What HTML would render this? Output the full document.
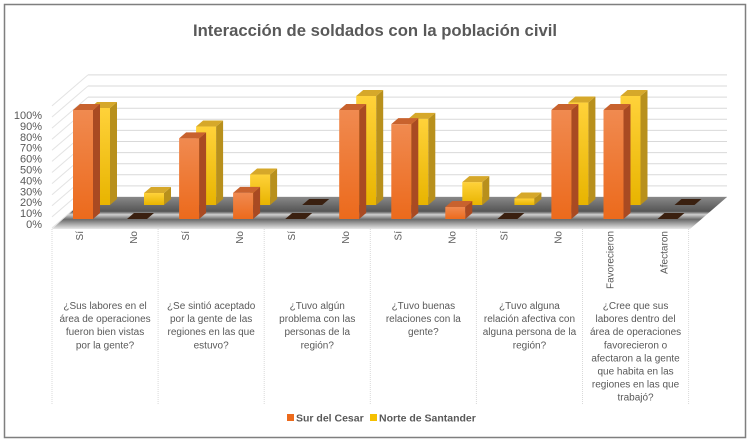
<!DOCTYPE html>
<html><head><meta charset="utf-8"><style>
body{margin:0;background:#fff}
svg{display:block;font-family:"Liberation Sans",sans-serif}
</style></head><body>
<svg id="chart" width="751" height="444" viewBox="0 0 751 444" xmlns="http://www.w3.org/2000/svg">
<defs>
<linearGradient id="gO" x1="0" y1="0" x2="0" y2="1"><stop offset="0" stop-color="#f08a50"/><stop offset="1" stop-color="#ec6a1c"/></linearGradient>
<linearGradient id="gY" x1="0" y1="0" x2="0" y2="1"><stop offset="0" stop-color="#ffd23a"/><stop offset="1" stop-color="#e8b400"/></linearGradient>
<linearGradient id="gF" x1="0" y1="0" x2="0" y2="1"><stop offset="0" stop-color="#888"/><stop offset="0.45" stop-color="#555"/><stop offset="0.55" stop-color="#cfcfcf"/><stop offset="0.7" stop-color="#6a6a6a"/><stop offset="1" stop-color="#e8e8e8"/></linearGradient>
</defs>
<rect x="4.5" y="4.5" width="741" height="433" fill="#fff" stroke="#7f7f7f" stroke-width="1.5"/>
<text x="375" y="36" text-anchor="middle" font-size="17" font-weight="bold" fill="#595959" textLength="364" lengthAdjust="spacingAndGlyphs">Interacción de soldados con la población civil</text>
<g id="walls"></g>
<polygon points="52,229 690,229 727,197 88,197" fill="url(#gF)"/>
<g id="bars"></g>
<g id="axis"></g>
<g id="cats"></g>
<g>
<rect x="287" y="414" width="7" height="7" fill="#ec6a1c"/>
<text x="296" y="421.5" font-size="10.5" font-weight="bold" fill="#595959">Sur del Cesar</text>
<rect x="370" y="414" width="7" height="7" fill="#f5c000"/>
<text x="379" y="421.5" font-size="10.5" font-weight="bold" fill="#595959">Norte de Santander</text>
</g>
</svg>
<script>
const groups=[["¿Sus labores en el","área de operaciones","fueron bien vistas","por la gente?"],["¿Se sintió aceptado","por la gente de las","regiones en las que","estuvo?"],["¿Tuvo algún","problema con las","personas de la","región?"],["¿Tuvo buenas","relaciones con la","gente?"],["¿Tuvo alguna","relación afectiva con","alguna persona de la","región?"],["¿Cree que sus","labores dentro del","área de operaciones","favorecieron o","afectaron a la gente","que habita en las","regiones en las que","trabajó?"]];
const subcats=["Sí","No","Sí","No","Sí","No","Sí","No","Sí","No","Favorecieron","Afectaron"];
const surValues=[100,0,74,24,0,100,87,11,0,100,100,0];
const norteValues=[89,11,72,28,0,100,79,21,6,94,100,0];
const yTicks=["0%","10%","20%","30%","40%","50%","60%","70%","80%","90%","100%"];
const NS="http://www.w3.org/2000/svg";
function mk(t,a,p){const e=document.createElementNS(NS,t);for(const k in a)e.setAttribute(k,a[k]);p.appendChild(e);return e;}
const X0=52,GW=106.1,K=1.09;
function xSub(i){const g=Math.floor(i/2);return X0+g*GW+(i%2?75:21);}
function yVal(v,base){return base-v*K;}
const walls=document.getElementById('walls');
for(let k=0;k<=11;k++){const y=197-k*11.1;
 const l=mk('line',{x1:88,y1:y,x2:727,y2:y,stroke:'#d9d9d9','stroke-width':1},walls);
 
 const d=mk('line',{x1:52,y1:y+31,x2:88,y2:y,stroke:'#e3e3e3','stroke-width':1},walls);
 }
const bars=document.getElementById('bars');
function bar(x,base,v,fFace,fSide,fTop,name){
 const w=20,dx=7,dy=6,y=yVal(v,base);const g=mk('g',{},bars);
 
 if(v<=0){mk('polygon',{points:`${x},${base} ${x+w},${base} ${x+w+dx},${base-dy} ${x+dx},${base-dy}`,fill:'#3a2010'},g);return;}
 mk('rect',{x:x,y:y,width:w,height:base-y,fill:fFace},g);
 mk('polygon',{points:`${x+w},${y} ${x+w+dx},${y-dy} ${x+w+dx},${base-dy} ${x+w},${base}`,fill:fSide},g);
 mk('polygon',{points:`${x},${y} ${x+w},${y} ${x+w+dx},${y-dy} ${x+dx},${y-dy}`,fill:fTop},g);}
for(let i=0;i<subcats.length;i++)bar(xSub(i)+17,205,norteValues[i],'url(#gY)','#b8901c','#d6a82a','bar-norte-'+i);
for(let i=0;i<subcats.length;i++)bar(xSub(i),219,surValues[i],'url(#gO)','#a94a22','#c8622e','bar-sur-'+i);
const ax=document.getElementById('axis');
yTicks.forEach((t,k)=>{const e=mk('text',{x:42,y:yVal(k*10,228),'text-anchor':'end','font-size':11,fill:'#595959'},ax);e.textContent=t;
 });
const cats=document.getElementById('cats');
for(let g=0;g<=6;g++){const x=X0+g*GW;const l=mk('line',{x1:x,y1:229,x2:x,y2:405,stroke:'#d9d9d9','stroke-dasharray':'1,1'},cats);
 }
subcats.forEach((s,i)=>{const x=xSub(i)+10;const a={x:0,y:0,transform:`translate(${x},231) rotate(-90)`,'text-anchor':'end','font-size':10,fill:'#595959'};
 if(s.length>3){a.textLength=Math.round(s.length*4.8);a.lengthAdjust='spacingAndGlyphs';}
 const e=mk('text',a,cats);e.textContent=s;
 });
groups.forEach((lines,g)=>{const cx=X0+g*GW+GW/2;const t=mk('text',{'text-anchor':'middle','font-size':10,fill:'#595959'},cats);
 
 lines.forEach((ln,j)=>{const s=mk('tspan',{x:cx,y:309+j*13.1},t);s.textContent=ln;});});
</script>
</body></html>
